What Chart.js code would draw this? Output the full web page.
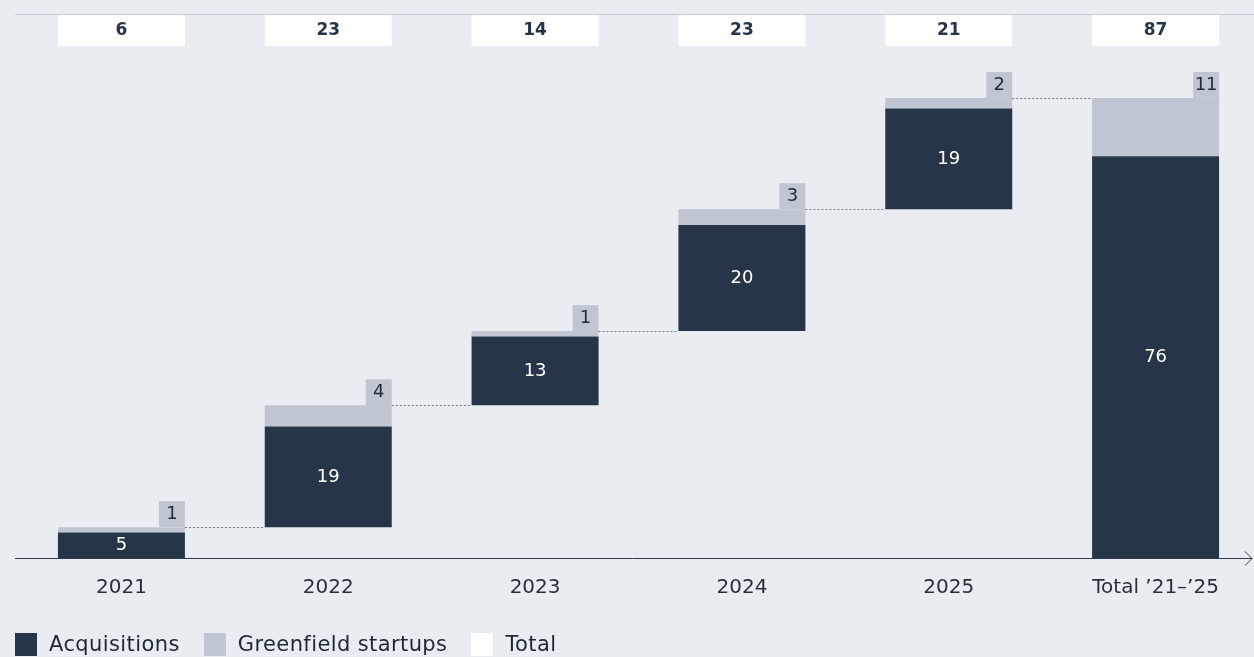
<!DOCTYPE html>
<html>
<head>
<script src="https://cdn.jsdelivr.net/npm/chart.js@4.4.1/dist/chart.umd.min.js"></script>
<style>
    body { margin: 0; background: #e9ecf1; overflow: hidden; font-family: "DejaVu Sans", sans-serif; }
    #wrap { position: relative; width: 1259px; height: 657px; }
    #legend { position: absolute; left: 15px; top: 632px; display: flex; align-items: center; font-size: 21px; letter-spacing: 0.4px; color: #1e2833; }
    #legend span.box { display: inline-block; width: 22px; height: 23px; margin-right: 12px; }
    #legend .item { display: flex; align-items: center; margin-right: 24px; }
</style>
</head>
<body>
<div id="wrap"><canvas id="myChart"></canvas></div>
<div id="legend">
    <div class="item"><span class="box" style="background:#263648"></span>Acquisitions</div>
    <div class="item"><span class="box" style="background:#c0c6d1"></span>Greenfield startups</div>
    <div class="item"><span class="box" style="background:#ffffff"></span>Total</div>
</div>
<script>
    const categories = ['2021', '2022', '2023', '2024', '2025', 'Total \u201921\u2013\u201925'];
    const acquisitions = [5, 19, 13, 20, 19, 76];
    const greenfield = [1, 4, 1, 3, 2, 11];
    const totals = [6, 23, 14, 23, 21, 87];

    const darkColor = '#263648';
    const greyColor = '#c0c6d1';
    const font = '"DejaVu Sans"';

    // waterfall bases: each year starts where the previous ended, total starts at 0
    const bases = [];
    let run = 0;
    categories.forEach((c, i) => {
        if (i === categories.length - 1) {
            bases.push(0);
        } else {
            bases.push(run);
            run += totals[i];
        }
    });
    const acqBars = acquisitions.map((v, i) => [bases[i], bases[i] + v]);
    const greenBars = greenfield.map((v, i) => [bases[i] + acquisitions[i], bases[i] + acquisitions[i] + v]);

    const extras = {
        id: 'extras',
        beforeDraw(chart) {
            const ctx = chart.ctx;
            const xs = chart.scales.x;
            const bar = chart.getDatasetMeta(0).data;
            ctx.save();
            ctx.strokeStyle = '#c6ccd5';
            ctx.lineWidth = 1;
            ctx.beginPath();
            ctx.moveTo(15, 14.5);
            ctx.lineTo(chart.width, 14.5);
            ctx.stroke();
            ctx.font = 'bold 17px ' + font;
            ctx.textAlign = 'center';
            ctx.textBaseline = 'middle';
            totals.forEach((t, i) => {
                const w = bar[i].width;
                const cx = xs.getPixelForValue(i);
                ctx.fillStyle = '#ffffff';
                ctx.fillRect(cx - w / 2, 15, w, 31);
                ctx.fillStyle = '#25364a';
                ctx.fillText(String(t), cx, 31);
            });
            ctx.restore();
        },
        afterDatasetsDraw(chart) {
            const ctx = chart.ctx;
            const ys = chart.scales.y;
            const acqMeta = chart.getDatasetMeta(0).data;
            const grMeta = chart.getDatasetMeta(1).data;
            ctx.save();
            // connectors
            ctx.strokeStyle = '#6f7884';
            ctx.lineWidth = 1;
            ctx.setLineDash([2, 2]);
            for (let i = 0; i < categories.length - 1; i++) {
                const y = Math.round(ys.getPixelForValue(bases[i] + totals[i])) + 0.5;
                ctx.beginPath();
                ctx.moveTo(acqMeta[i].x + acqMeta[i].width / 2, y);
                ctx.lineTo(acqMeta[i + 1].x - acqMeta[i + 1].width / 2, y);
                ctx.stroke();
            }
            ctx.setLineDash([]);
            ctx.textAlign = 'center';
            ctx.textBaseline = 'middle';
            // labels
            acqMeta.forEach((b, i) => {
                ctx.fillStyle = '#ffffff';
                ctx.font = '18px ' + font;
                ctx.fillText(String(acquisitions[i]), b.x, (b.y + b.base) / 2);
                const g = grMeta[i];
                const right = g.x + g.width / 2;
                ctx.fillStyle = greyColor;
                ctx.fillRect(right - 26, g.y - 26, 26, 26);
                ctx.fillStyle = '#1f2a36';
                ctx.fillText(String(greenfield[i]), right - 13, g.y - 13);
            });
            // axis line with arrow
            const ay = Math.round(ys.getPixelForValue(0)) - 0.5;
            ctx.strokeStyle = '#2f3d4f';
            ctx.lineWidth = 1;
            ctx.beginPath();
            ctx.moveTo(15, ay);
            ctx.lineTo(1252, ay);
            ctx.moveTo(1245, ay - 7);
            ctx.lineTo(1252, ay);
            ctx.lineTo(1245, ay + 7);
            ctx.stroke();
            ctx.restore();
        }
    };

    const ctx = document.getElementById('myChart').getContext('2d');
    const myChart = new Chart(ctx, {
        type: 'bar',
        data: {
            labels: categories,
            datasets: [
                {
                    label: 'Acquisitions',
                    data: acqBars,
                    backgroundColor: darkColor,
                    borderWidth: 0,
                    barPercentage: 0.614,
                    categoryPercentage: 1
                },
                {
                    label: 'Greenfield startups',
                    data: greenBars,
                    backgroundColor: greyColor,
                    borderWidth: 0,
                    barPercentage: 0.614,
                    categoryPercentage: 1
                }
            ]
        },
        options: {
            responsive: true,
            maintainAspectRatio: false,
            animation: false,
            layout: {padding: {top: 29, left: 18, right: 0, bottom: 48}},
            plugins: {
                legend: {display: false},
                tooltip: {enabled: false}
            },
            scales: {
                x: {
                    stacked: true,
                    grid: {display: false},
                    border: {display: false},
                    ticks: {
                        color: '#2b3038',
                        font: {family: 'DejaVu Sans', size: 20},
                        padding: 9,
                        maxRotation: 0
                    }
                },
                y: {
                    stacked: false,
                    display: false,
                    min: 0,
                    max: 100
                }
            }
        },
        plugins: [extras]
    });
</script>
</body>
</html>
